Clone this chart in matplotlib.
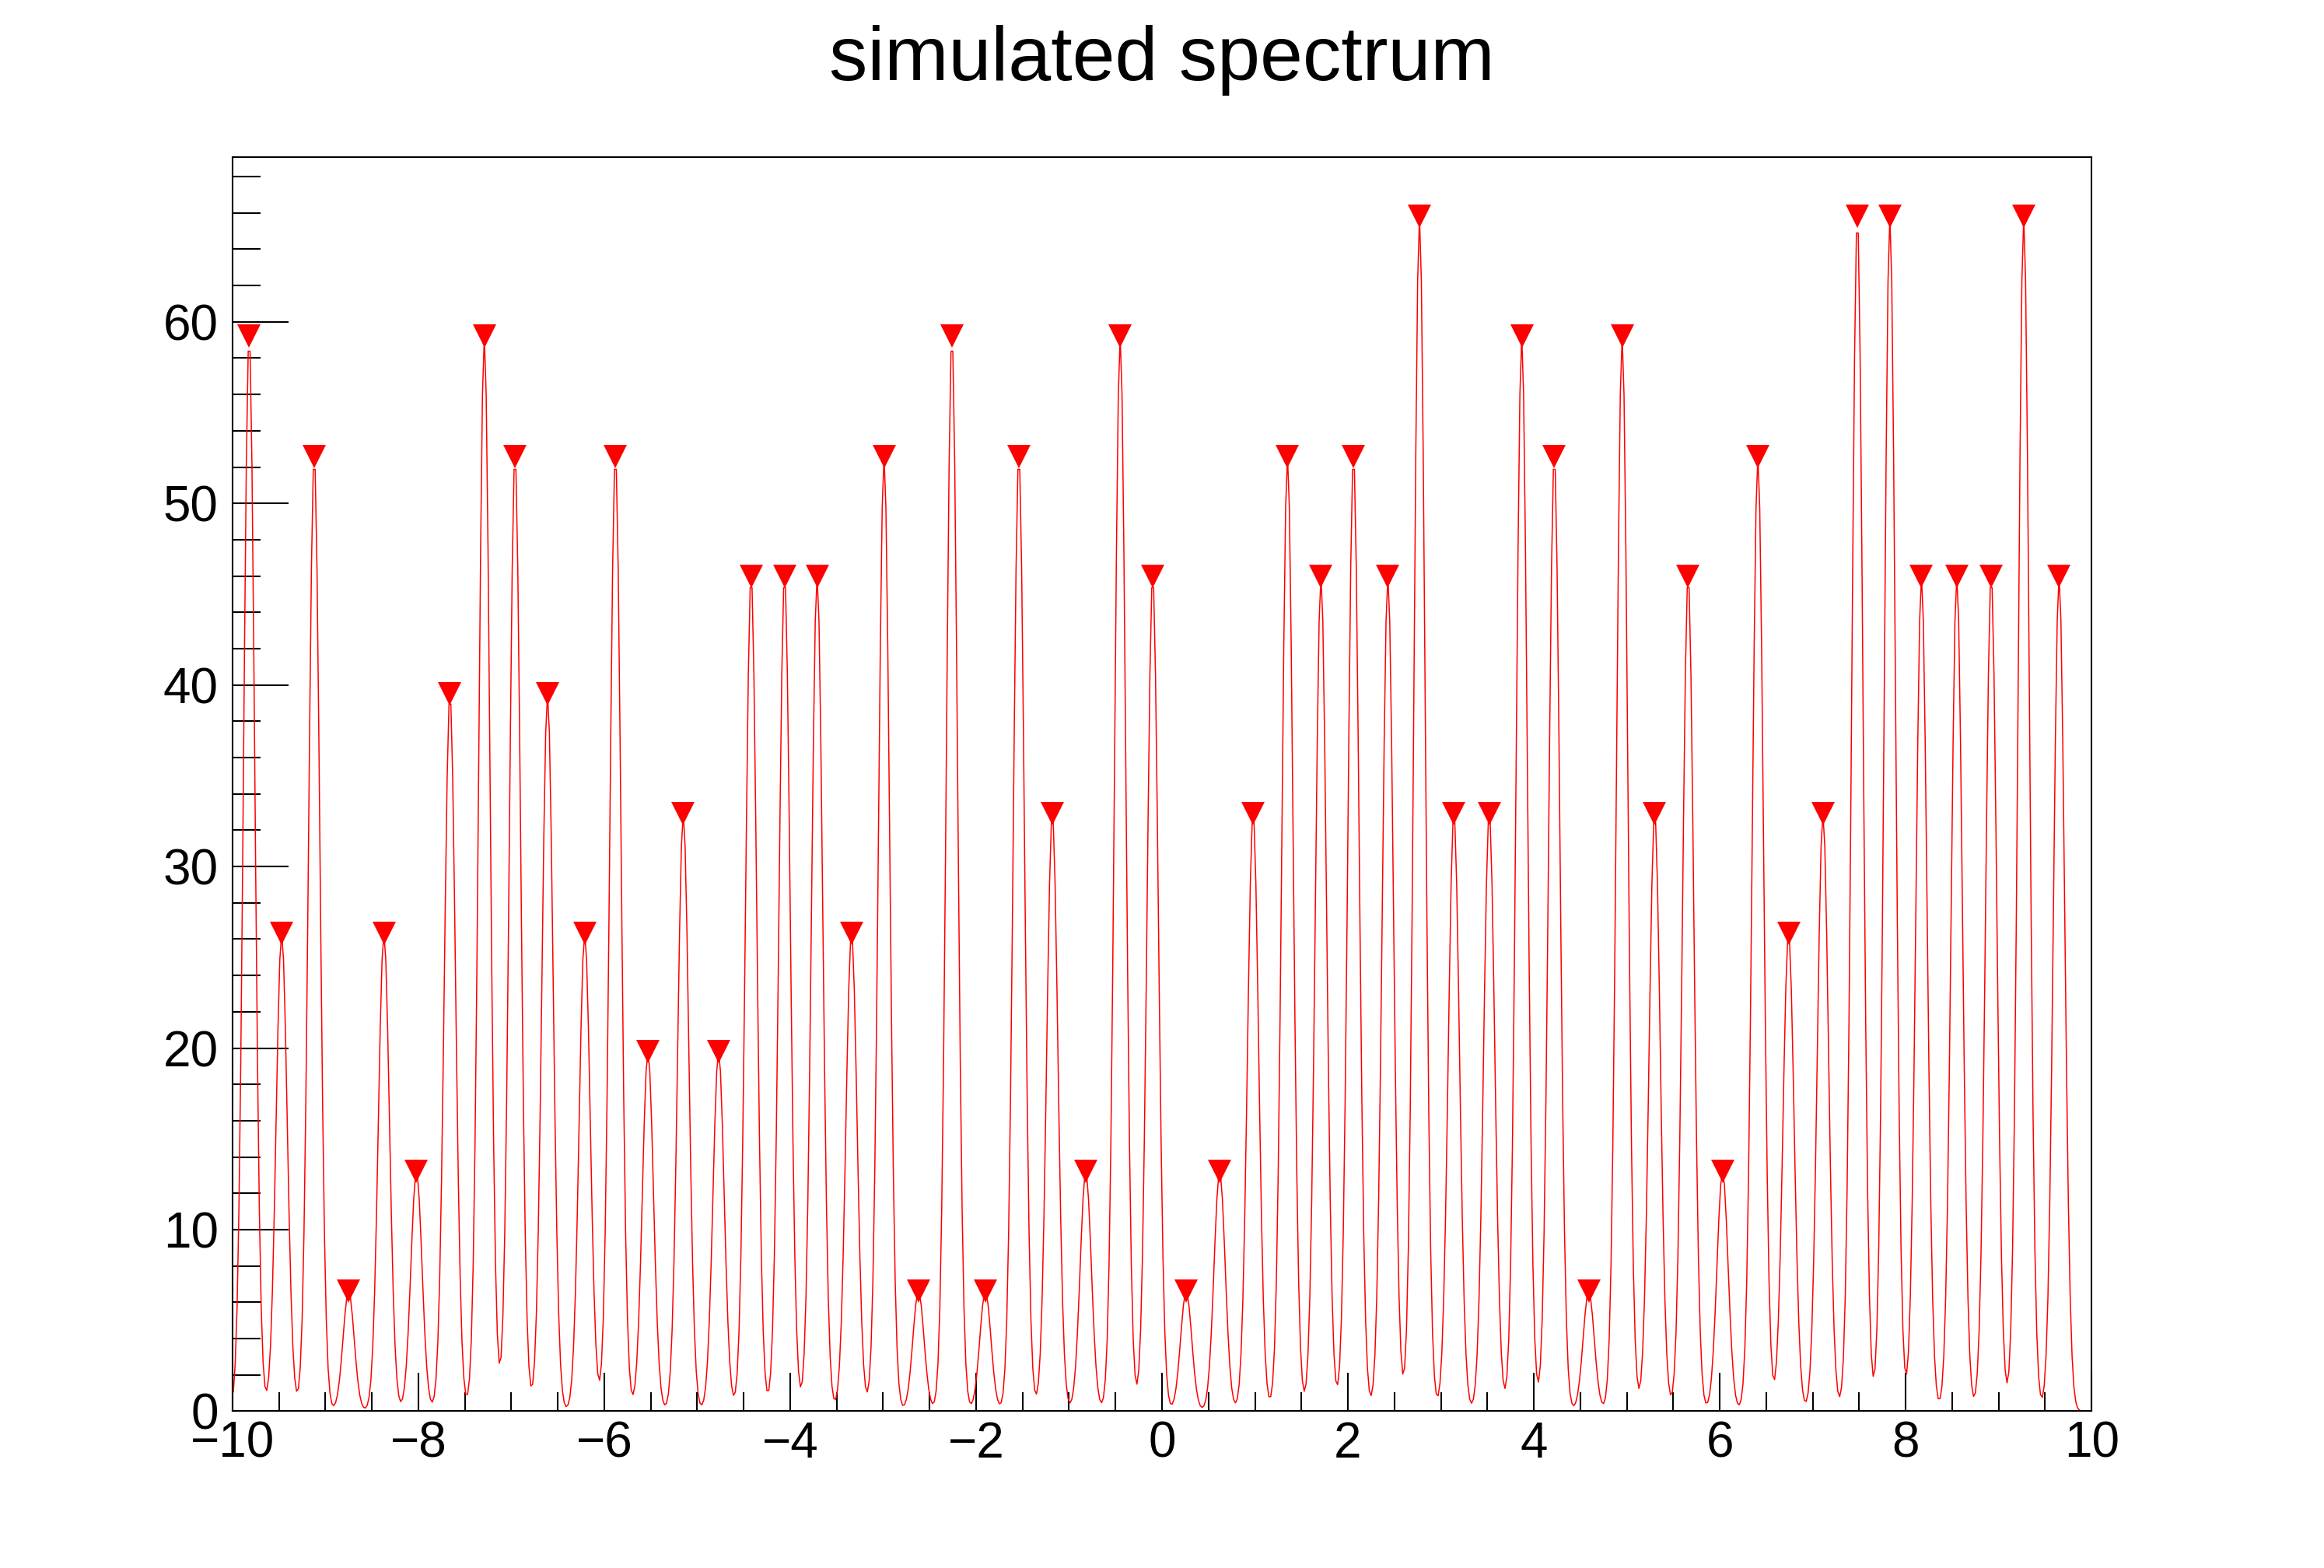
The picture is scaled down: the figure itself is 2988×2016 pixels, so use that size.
import numpy as np
import matplotlib

matplotlib.use('Agg')
import matplotlib.pyplot as plt
from matplotlib.ticker import MultipleLocator

# peak positions / heights
peak_x = [-9.82, -9.47, -9.12, -8.75, -8.37, -8.02, -7.66, -7.29, -6.96, -6.61,
          -6.21, -5.88, -5.53, -5.15, -4.77, -4.42, -4.06, -3.71, -3.34, -2.99,
          -2.62, -2.26, -1.90, -1.54, -1.18, -0.82, -0.45, -0.10, 0.26, 0.62,
          0.98, 1.35, 1.71, 2.06, 2.43, 2.77, 3.14, 3.52, 3.87, 4.22,
          4.59, 4.95, 5.30, 5.66, 6.03, 6.41, 6.74, 7.11, 7.48, 7.83,
          8.17, 8.55, 8.92, 9.27, 9.65]
peak_y = [59.2, 26.3, 52.6, 6.6, 26.3, 13.2, 39.5, 59.2, 52.6, 39.5,
          26.3, 52.6, 19.8, 32.9, 19.8, 46.0, 46.0, 46.0, 26.3, 52.6,
          6.6, 59.2, 6.6, 52.6, 32.9, 13.2, 59.2, 46.0, 6.6, 13.2,
          32.9, 52.6, 46.0, 52.6, 46.0, 65.8, 32.9, 32.9, 59.2, 52.6,
          6.6, 59.2, 32.9, 46.0, 13.2, 52.6, 26.3, 32.9, 65.8, 65.8,
          46.0, 46.0, 46.0, 65.8, 46.0]
peak_sigma = 0.06
nbins = 1000
xmin, xmax = -10, 10

# histogram contents: sum of gaussians at bin centres
edges = np.linspace(xmin, xmax, nbins + 1)
centres = 0.5 * (edges[:-1] + edges[1:])
px = np.array(peak_x)[:, None]
py = np.array(peak_y)[:, None]
content = (py * np.exp(-0.5 * ((centres[None, :] - px) / peak_sigma) ** 2)).sum(axis=0)

plt.rcParams['font.family'] = ['Liberation Sans', 'DejaVu Sans']

fig = plt.figure(figsize=(29.88, 20.16), dpi=100)
ax = fig.add_axes([0.1, 0.1, 0.8, 0.8])

ax.plot(centres, content, color='red', lw=1.1)
ax.plot(peak_x, peak_y, 'v', color='red', ms=22, mec='red', mew=0, zorder=5)

ax.set_xlim(xmin, xmax)
ax.set_ylim(0, max(peak_y) * 1.05)

ax.xaxis.set_major_locator(MultipleLocator(2))
ax.xaxis.set_minor_locator(MultipleLocator(0.5))
ax.yaxis.set_major_locator(MultipleLocator(10))
ax.yaxis.set_minor_locator(MultipleLocator(2))

ax.tick_params(axis='both', which='both', direction='in', width=1.5,
               top=False, right=False, labelsize=46, color='black')
ax.tick_params(axis='x', which='major', length=35, pad=9)
ax.tick_params(axis='x', which='minor', length=17.5)
ax.tick_params(axis='y', which='major', length=52, pad=13)
ax.tick_params(axis='y', which='minor', length=26)
for sp in ax.spines.values():
    sp.set_linewidth(1.5)

fig.text(0.5, 0.949, 'simulated spectrum', ha='center', va='baseline', fontsize=71)

fig.savefig('out.png', dpi=100, facecolor='white')
